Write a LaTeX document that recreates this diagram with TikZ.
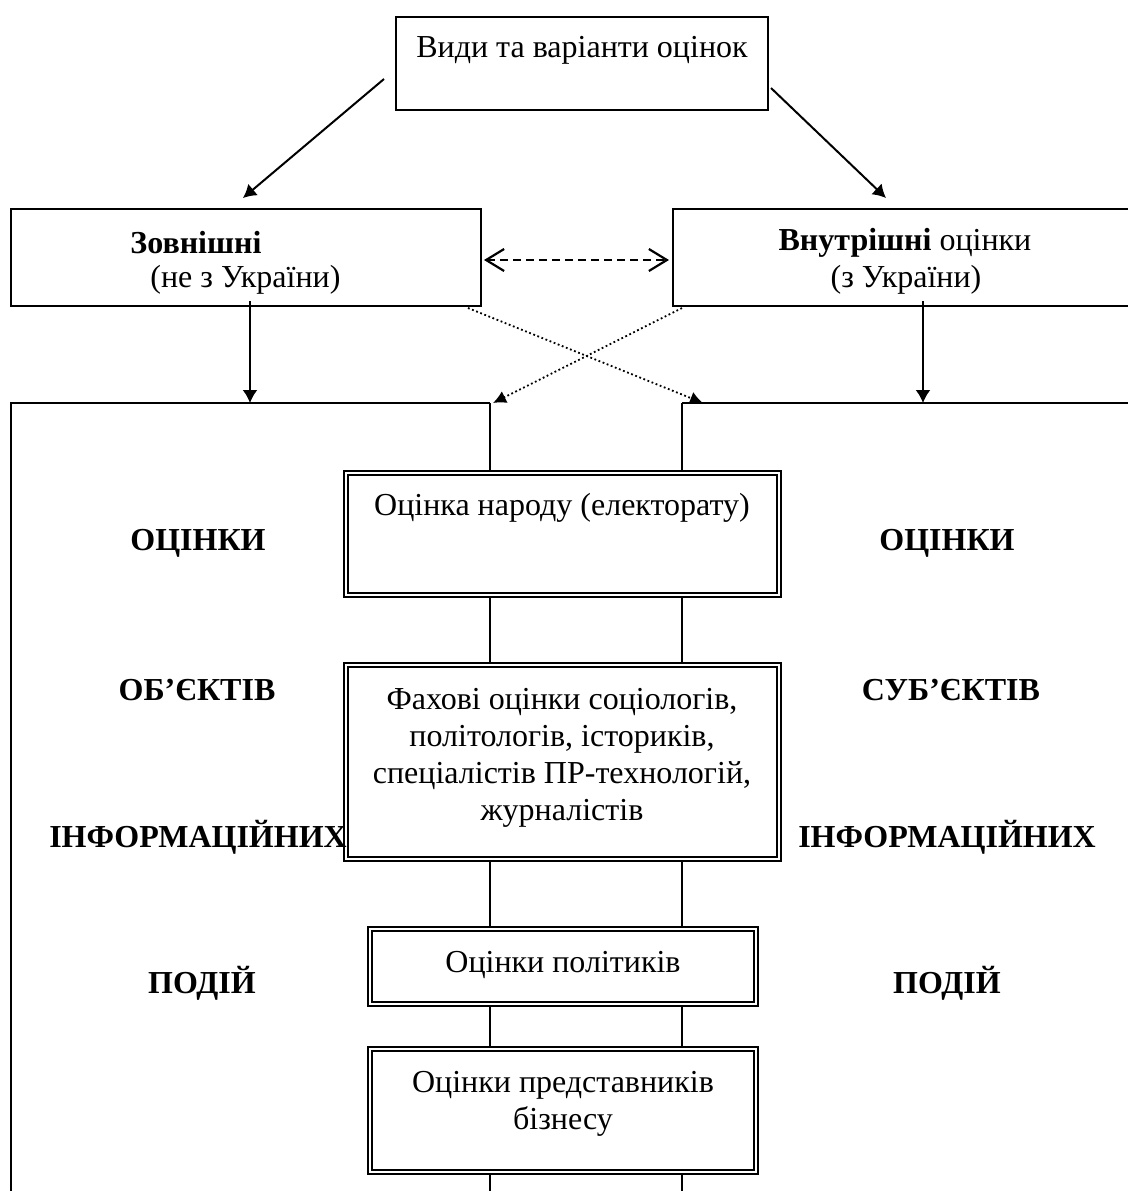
\documentclass[tikz,border=0pt]{standalone}
\usepackage{fontspec}
\setmainfont{Liberation Serif}
\usetikzlibrary{arrows.meta,calc}
\begin{document}
\begin{tikzpicture}[x=0.5pt,y=-0.5pt,
  txt/.style={font=\fontsize{16}{18.5}\selectfont, inner sep=0pt, align=center},
  lbl/.style={font=\fontsize{16}{19}\selectfont\bfseries, inner sep=0pt},
  plainbox/.style={draw, line width=1pt, inner sep=0pt},
  dblbox/.style={draw, line width=1.35pt, inner sep=0pt},
  conn/.style={line width=0.8pt},
  arr/.style={line width=1pt, -{Latex[length=6.5pt,width=7.5pt]}},
  dotarr/.style={line width=0.9pt, dash pattern=on 0.9pt off 1.3pt, -{Latex[length=6.5pt,width=6.5pt]}},
  dasharr/.style={line width=1.1pt, dash pattern=on 4pt off 2.5pt, {Straight Barb[length=9pt,width=11pt]}-{Straight Barb[length=9pt,width=11pt]}},
]
\clip (0,0) rectangle (1128,1191);
\fill[white] (0,0) rectangle (1128,1191);

% top box
\node[plainbox, minimum width=186pt, minimum height=46.5pt] (top) at (582,63.5) {};
\node[txt] (ttop) at (582,50) {Види та варіанти оцінок};

% second row
\node[plainbox, minimum width=235pt, minimum height=48.5pt] (left) at (246,257.5) {};
\node[txt, anchor=west, font=\fontsize{16}{18.5}\selectfont\bfseries] (tl1) at (130,243) {Зовнішні};
\node[txt, anchor=west] (tl2) at (150,280) {(не з України)};
\node[plainbox, minimum width=231pt, minimum height=48.5pt] (right) at (904,257.5) {};
\node[txt] (tr1) at (905,243) {\textbf{Внутрішні} оцінки};
\node[txt] (tr2) at (906,280) {(з України)};

% arrows from top
\draw[arr] ($(top.west)+(-11,15.5)$) -- ($(left.north)+(-3,-10)$);
\draw[arr] ($(top.east)+(2,24.5)$) -- ($(right.north)+(-18,-10)$);

% dashed double arrow
\draw[dasharr] ($(left.east)+(2,2.5)$) -- ($(right.west)+(-3,2.5)$);

% big frames
\coordinate (LC) at (11,403);
\coordinate (LT) at (490,403);
\coordinate (RT) at (682,403);
\coordinate (RC) at (1140,403);
\coordinate (LB) at (11,1200);
\coordinate (RB) at (1140,1200);
\draw[conn] (LB) -- (LC) -- (LT);
\draw[conn] (RT) -- (RC) -- (RB);

% vertical arrows
\coordinate (va1) at ($(left.south)+(4,-6)$);
\coordinate (va2) at ($(right.south)+(19,-6)$);
\draw[arr] (va1) -- (va1 |- LC);
\draw[arr] (va2) -- (va2 |- RC);

% dotted crossing arrows
\draw[dotarr] ($(left.south east)+(-14,1)$) -- ($(RT)+(21,0)$);
\draw[dotarr] ($(right.south west)+(10,1)$) -- ($(LT)+(3,0)$);

% middle boxes
\node[dblbox, minimum width=218.5pt, minimum height=63pt] (b1) at (562.5,534) {};
\node[dblbox, minimum width=218.5pt, minimum height=99pt] (b2) at (562.5,762) {};
\node[dblbox, minimum width=195pt, minimum height=39.5pt] (b3) at (563,966.5) {};
\node[dblbox, minimum width=195pt, minimum height=63.5pt] (b4) at (563,1110.5) {};
\foreach \b in {b1,b2,b3,b4}
  \draw[line width=0.9pt] ([shift={(2.7pt,-2.7pt)}]\b.north west) rectangle ([shift={(-2.7pt,2.7pt)}]\b.south east);

\node[txt] (t1) at (562,508) {Оцінка народу (електорату)};
\node[txt] (t2) at (562,758) {Фахові оцінки соціологів,\\політологів, істориків,\\спеціалістів ПР-технологій,\\журналістів};
\node[txt] (t3) at (563,965) {Оцінки політиків};
\node[txt] (t4) at (563,1104) {Оцінки представників\\бізнесу};

% connecting verticals
\foreach \c in {LT,RT}{
  \draw[conn] (\c) -- (\c |- b1.north);
  \draw[conn] (b1.south -| \c) -- (b2.north -| \c);
  \draw[conn] (b2.south -| \c) -- (b3.north -| \c);
  \draw[conn] (b3.south -| \c) -- (b4.north -| \c);
  \draw[conn] (b4.south -| \c) -- (\c |- LB);
}

% side labels
\node[lbl] (l1) at (198,543) {ОЦІНКИ};
\node[lbl] (l2) at (197,690) {ОБ’ЄКТІВ};
\node[lbl] (l3) at (198,837) {ІНФОРМАЦІЙНИХ};
\node[lbl] (l4) at (202,983) {ПОДІЙ};
\node[lbl] (r1) at (947,543) {ОЦІНКИ};
\node[lbl] (r2) at (951,690) {СУБ’ЄКТІВ};
\node[lbl] (r3) at (947,837) {ІНФОРМАЦІЙНИХ};
\node[lbl] (r4) at (947,983) {ПОДІЙ};
\end{tikzpicture}
\end{document}
